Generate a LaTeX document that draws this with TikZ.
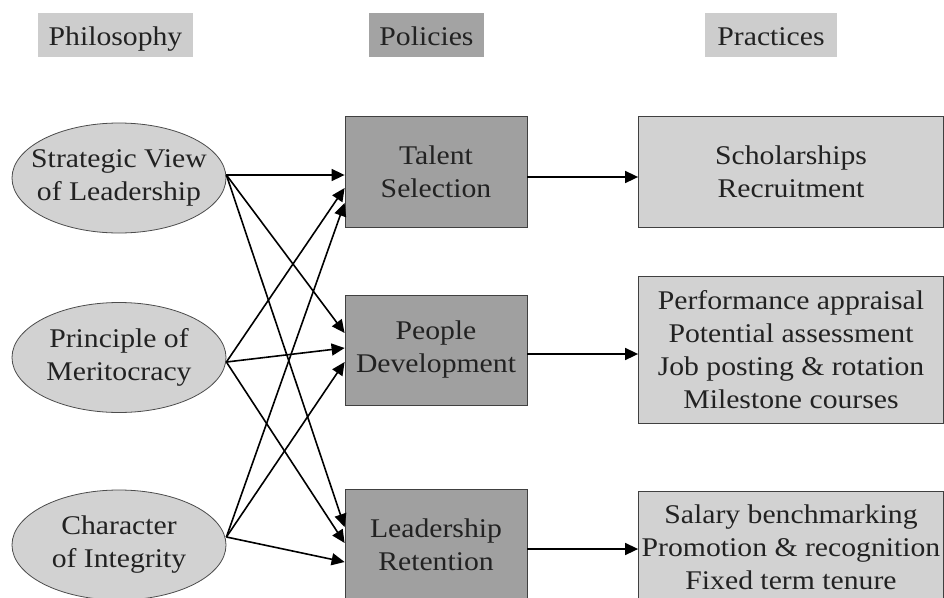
\documentclass[tikz,border=0pt]{standalone}
\usepackage{fontspec}
\setmainfont{Liberation Serif}[FakeStretch=1.1]
\usetikzlibrary{shapes.geometric,arrows.meta,calc}
\definecolor{lightfill}{HTML}{D2D2D2}
\definecolor{darkfill}{HTML}{A0A0A0}
\definecolor{hdrlight}{HTML}{CDCDCD}
\definecolor{hdrdark}{HTML}{A3A3A3}
\definecolor{txt}{HTML}{222222}
\begin{document}
\begin{tikzpicture}[x=1pt,y=-1pt,
  every node/.style={font=\fontsize{27}{33}\selectfont, text=txt, align=center, inner sep=0pt},
  hdr/.style={rectangle, minimum height=44pt, text height=22pt, text depth=1pt},
  philo/.style={ellipse, draw=black!70, line width=0.8pt, fill=lightfill, inner xsep=-15pt, minimum width=214pt, minimum height=110pt},
  policy/.style={rectangle, draw=black!75, line width=0.8pt, fill=darkfill, minimum width=182pt, minimum height=111pt},
  practice/.style={rectangle, draw=black!75, line width=0.8pt, fill=lightfill, minimum width=305pt},
  arr/.style={line width=1.6pt, -{Triangle[length=13pt,width=12pt]}},
  ]
\useasboundingbox (0,0) rectangle (944,597);
% headers
\node[hdr, fill=hdrlight, minimum width=155pt] (hphil) at (115.5,35) {Philosophy};
\node[hdr, fill=hdrdark, minimum width=115pt] (hpol) at (426.5,35) {Policies};
\node[hdr, fill=hdrlight, minimum width=132pt] (hprac) at (771,35) {Practices};
% philosophy
\node[philo] (sv) at (119,178) {Strategic View\\of Leadership};
\node[philo] (pm) at (119,357.5) {Principle of\\Meritocracy};
\node[philo] (ci) at (119,545) {Character\\of Integrity};
% policies
\node[policy] (ts) at (436,171.5) {Talent\\Selection};
\node[policy, minimum height=110pt] (pd) at (436,350) {People\\Development};
\node[policy] (lr) at (436,544.5) {Leadership\\Retention};
% practices
\node[practice, minimum height=111pt] (sc) at (791,171.5) {Scholarships\\Recruitment};
\node[practice, minimum height=147pt] (pa) at (791,349.5) {Performance appraisal\\Potential assessment\\Job posting \& rotation\\Milestone courses};
\node[practice, minimum height=112pt] (sb) at (791,547) {Salary benchmarking\\Promotion \& recognition\\Fixed term tenure};
% philosophy -> policies
\draw[arr] ([yshift=3pt]sv.east) -- ([yshift=-3.5pt]ts.west);
\draw[arr] ([yshift=3pt]sv.east) -- ([yshift=17pt]pd.west);
\draw[arr] ([yshift=3pt]sv.east) -- ([yshift=17.5pt]lr.west);
\draw[arr] ([yshift=-4.5pt]pm.east) -- ([yshift=-16.5pt]ts.west);
\draw[arr] ([yshift=-4.5pt]pm.east) -- ([yshift=2pt]pd.west);
\draw[arr] ([yshift=-4.5pt]pm.east) -- ([yshift=1.5pt]lr.west);
\draw[arr] ([yshift=8pt]ci.east) -- ([yshift=-31.5pt]ts.west);
\draw[arr] ([yshift=8pt]ci.east) -- ([yshift=-12pt]pd.west);
\draw[arr] ([yshift=8pt]ci.east) -- ([yshift=-17.5pt]lr.west);
% policies -> practices
\draw[arr] ([yshift=-5.5pt]ts.east) -- ([yshift=-5.5pt]ts.east -| sc.west);
\draw[arr] ([yshift=-4pt]pd.east) -- ([yshift=-4pt]pd.east -| pa.west);
\draw[arr] ([yshift=-4.5pt]lr.east) -- ([yshift=-4.5pt]lr.east -| sb.west);
\end{tikzpicture}
\end{document}
